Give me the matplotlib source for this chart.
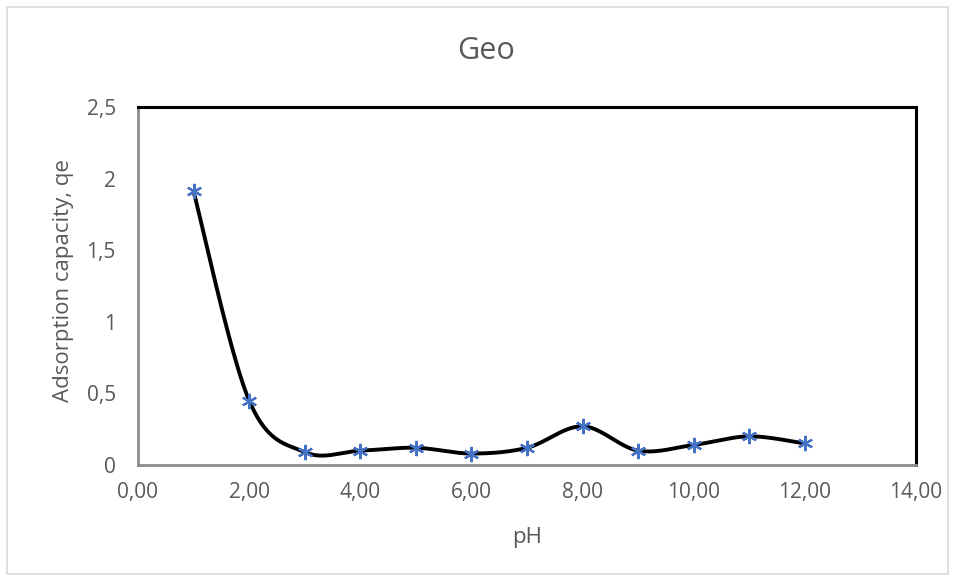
import numpy as np
import matplotlib
matplotlib.use("Agg")
import matplotlib.pyplot as plt
from matplotlib.patches import Rectangle
from matplotlib.ticker import FuncFormatter

ph = [1, 2, 3, 4, 5, 6, 7, 8, 9, 10, 11, 12]
qe = [1.91, 0.45, 0.09, 0.10, 0.12, 0.08, 0.12, 0.27, 0.10, 0.14, 0.20, 0.15]
x_ticks = [0, 2, 4, 6, 8, 10, 12, 14]
y_ticks = [0, 0.5, 1, 1.5, 2, 2.5]


def excel_smooth(x, y, n=40):
    x = np.asarray(x, float)
    y = np.asarray(y, float)
    px = np.concatenate([[x[0]], x, [x[-1]]])
    py = np.concatenate([[y[0]], y, [y[-1]]])
    xs, ys = [], []
    for i in range(1, len(px) - 2):
        p0 = np.array([px[i - 1], py[i - 1]])
        p1 = np.array([px[i], py[i]])
        p2 = np.array([px[i + 1], py[i + 1]])
        p3 = np.array([px[i + 2], py[i + 2]])
        c1 = p1 + (p2 - p0) / 6.0
        c2 = p2 - (p3 - p1) / 6.0
        t = np.linspace(0, 1, n)[:, None]
        b = ((1 - t) ** 3) * p1 + 3 * ((1 - t) ** 2) * t * c1 + 3 * (1 - t) * t ** 2 * c2 + t ** 3 * p2
        xs.append(b[:, 0])
        ys.append(b[:, 1])
    return np.concatenate(xs), np.concatenate(ys)


plt.rcParams['font.family'] = ['Open Sans', 'DejaVu Sans']
TXT = '#595959'
fig = plt.figure(figsize=(9.55, 5.81), dpi=100)
fig.patches.append(Rectangle((0.0073, 0.012), 0.985, 0.976, transform=fig.transFigure,
                             fill=False, edgecolor='#d9d9d9', linewidth=1.2))
ax = fig.add_axes([0.1445, 0.1997, 0.8147, 0.6161])

sx, sy = excel_smooth(ph, qe)
ax.plot(sx, sy, color='black', linewidth=2.8, solid_capstyle='round', zorder=2)
ax.plot(ph, qe, linestyle='none', marker=(6, 2, 0), markersize=11, markeredgewidth=1.6,
        color='#4472C4', zorder=3)

ax.set_xlim(0, 14)
ax.set_ylim(0, 2.5)
ax.set_xticks(x_ticks)
ax.set_yticks(y_ticks)
ax.xaxis.set_major_formatter(FuncFormatter(lambda v, p: f"{v:.2f}".replace('.', ',')))
ax.yaxis.set_major_formatter(FuncFormatter(lambda v, p: (f"{v:g}").replace('.', ',')))
ax.tick_params(axis='both', length=0, labelsize=15, labelcolor=TXT)
ax.tick_params(axis='x', pad=12)
ax.tick_params(axis='y', pad=16)

for s in ['top', 'right']:
    ax.spines[s].set_color('black')
    ax.spines[s].set_linewidth(2.2)
for s in ['left', 'bottom']:
    ax.spines[s].set_color('#8c8c8c')
    ax.spines[s].set_linewidth(2.0)

fig.text(486 / 955, 1 - 51 / 581, 'Geo', ha='center', va='center', fontsize=22, color=TXT)
fig.text(527 / 955, 1 - 537 / 581, 'pH', ha='center', va='center', fontsize=16, color=TXT)
fig.text(63 / 955, 1 - 281 / 581, 'Adsorption capacity, qe', ha='center', va='center',
         rotation=90, fontsize=16, color=TXT)

fig.savefig('out.png', dpi=100)
